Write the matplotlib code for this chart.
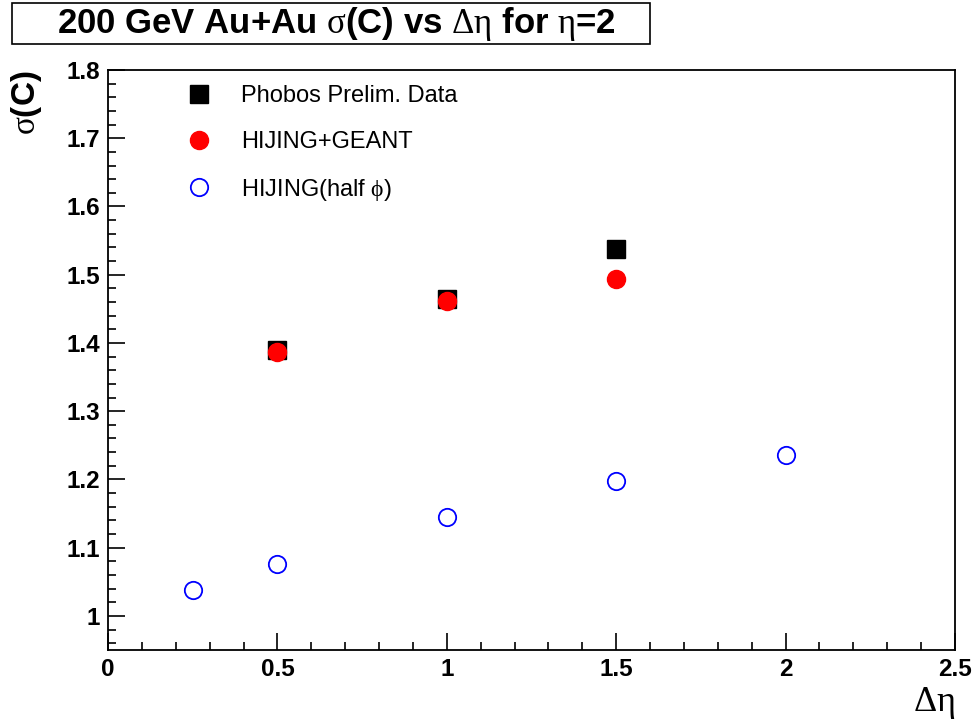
import matplotlib
matplotlib.use("Agg")
import matplotlib.pyplot as plt
from matplotlib.patches import Rectangle
from matplotlib.ticker import MultipleLocator

plt.rcParams['mathtext.fontset'] = 'custom'
plt.rcParams['mathtext.rm'] = 'Liberation Serif'
plt.rcParams['mathtext.it'] = 'Liberation Serif'
plt.rcParams['mathtext.bf'] = 'Liberation Serif'
plt.rcParams['font.family'] = ['Liberation Sans', 'DejaVu Sans']

# Data
data_x = [0.5, 1.0, 1.5]
data_y = [1.390, 1.465, 1.538]
geant_x = [0.5, 1.0, 1.5]
geant_y = [1.387, 1.462, 1.494]
half_x = [0.25, 0.5, 1.0, 1.5, 2.0]
half_y = [1.038, 1.076, 1.145, 1.198, 1.236]

labels = ["Phobos Prelim. Data", "HIJING+GEANT", r"HIJING(half $\phi$)"]

W, H = 975, 725
fig = plt.figure(figsize=(W / 100, H / 100), dpi=100)
ax = fig.add_axes([108 / W, 1 - 650 / H, (955 - 108) / W, (650 - 70) / H])

ax.plot(data_x, data_y, 's', color='black', markersize=13, label=labels[0], zorder=3)
ax.plot(geant_x, geant_y, 'o', color='red', markersize=13, label=labels[1], zorder=4)
ax.plot(half_x, half_y, 'o', mfc='none', mec='blue', mew=1.3, markersize=12.5, label=labels[2], zorder=3)

ax.set_xlim(0, 2.5)
ax.set_ylim(0.95, 1.8)
ax.xaxis.set_major_locator(MultipleLocator(0.5))
ax.xaxis.set_minor_locator(MultipleLocator(0.1))
ax.yaxis.set_major_locator(MultipleLocator(0.1))
ax.yaxis.set_minor_locator(MultipleLocator(0.02))

def fmt(v, pos):
    s = f"{v:.1f}"
    if s.endswith(".0"):
        s = s[:-2]
    return s
ax.xaxis.set_major_formatter(plt.FuncFormatter(fmt))
ax.yaxis.set_major_formatter(plt.FuncFormatter(fmt))

ax.tick_params(which='both', direction='in', top=False, right=False, width=1.2, color='black')
ax.tick_params(which='major', length=12.5, labelsize=17.5)
ax.tick_params(axis='y', which='major', pad=6)
ax.tick_params(axis='x', which='major', pad=6)
ax.tick_params(which='minor', length=6)
for lab in ax.get_xticklabels() + ax.get_yticklabels():
    lab.set_fontweight('bold')
for s in ax.spines.values():
    s.set_linewidth(1.3)

leg = ax.legend(loc='upper left', bbox_to_anchor=(0.069, 1.01), frameon=False,
                labelspacing=1.0, handletextpad=1.25, handlelength=1.0,
                prop={'family': ['Liberation Sans', 'DejaVu Sans'], 'size': 17})

# Title box
fig.add_artist(Rectangle((12 / W, 1 - 44 / H), (650 - 12) / W, 41 / H,
                         transform=fig.transFigure, fc='white', ec='black', lw=1.2))
fig.text(336 / W, 1 - 24 / H,
         r"200 GeV Au+Au $\sigma$(C) vs $\Delta\eta$ for $\eta$=2",
         ha='center', va='center', fontsize=25, fontweight='bold',
         family=['Liberation Sans', 'DejaVu Sans'])

fig.text(26 / W, 1 - 103 / H, r"$\sigma$(C)", rotation=90, ha='center', va='center',
         fontsize=24, fontweight='bold', family=['Liberation Sans', 'DejaVu Sans'])
fig.text(955 / W, 1 - 703 / H, r"$\Delta\eta$", ha='right', va='center', fontsize=26)

fig.savefig("out.png", dpi=100)
